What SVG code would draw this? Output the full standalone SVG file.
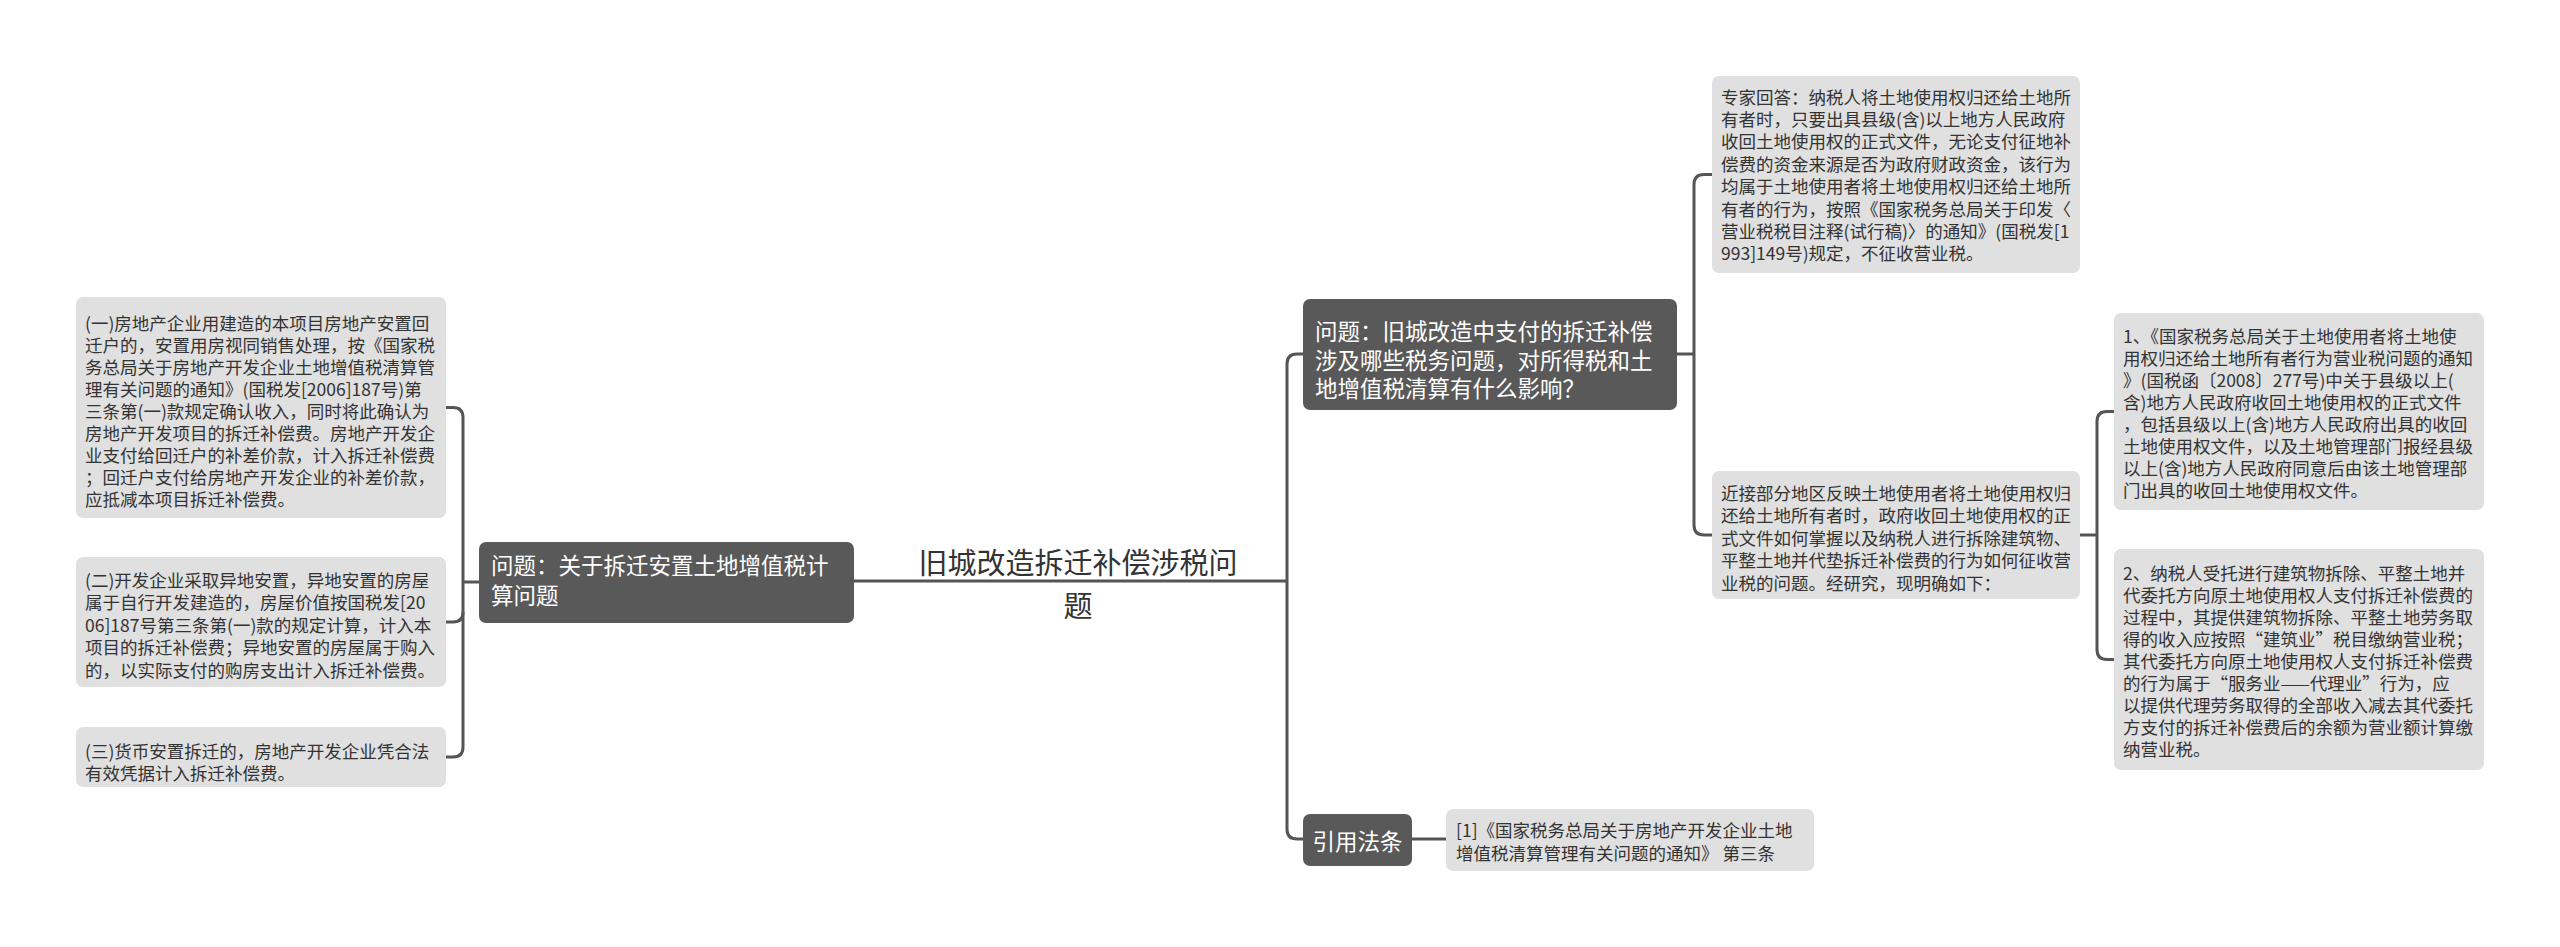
<svg xmlns="http://www.w3.org/2000/svg" width="2560" height="947" viewBox="0 0 2560 947">
<style>
.bg{fill:#ffffff}
.lbox{fill:#e0e0e0}
.dbox{fill:#595959}
.lt{font-family:"Noto Sans CJK SC","Noto Sans",sans-serif;font-size:17.5px;fill:#333333;dominant-baseline:central}
.dt{font-family:"Noto Sans CJK SC","Noto Sans",sans-serif;font-size:22.5px;fill:#ffffff;dominant-baseline:central}
.ct{font-family:"Noto Sans CJK SC","Noto Sans",sans-serif;font-size:29px;fill:#333333;dominant-baseline:central;text-anchor:middle}
.conn{fill:none;stroke:#555555;stroke-width:3}
</style>
<rect class="bg" x="0" y="0" width="2560" height="947"/>
<g id="connectors">
  <path class="conn" d="M854 581 H1287"/>
  <path class="conn" d="M1303 354 H1297 Q1287 354 1287 364 V829 Q1287 839 1297 839 H1303"/>
  <path class="conn" d="M479 582 H463"/>
  <path class="conn" d="M446 407.5 H453 Q463 407.5 463 417.5 V747 Q463 757 453 757 H446"/>
  <path class="conn" d="M446 622 H453 Q463 622 463 612"/>
  <path class="conn" d="M1677 354 H1694"/>
  <path class="conn" d="M1712 174.5 H1704 Q1694 174.5 1694 184.5 V525 Q1694 535 1704 535 H1712"/>
  <path class="conn" d="M1412 839 H1446"/>
  <path class="conn" d="M2080 535 H2097"/>
  <path class="conn" d="M2114 411.5 H2107 Q2097 411.5 2097 421.5 V649.5 Q2097 659.5 2107 659.5 H2114"/>
</g>
<g id="center">
  <text class="ct"><tspan x="1078" y="561">旧城改造拆迁补偿涉税问</tspan><tspan x="1078" y="604">题</tspan></text>
</g>
<g id="node-left">
  <rect class="dbox" x="479" y="542" width="375" height="81" rx="7"/>
  <text class="dt" x="491" y="564">问题：关于拆迁安置土地增值税计</text>
  <text class="dt" x="491" y="594">算问题</text>
</g>
<g id="node-l1">
  <rect class="lbox" x="76" y="297" width="370" height="221" rx="7"/>
  <text class="lt" x="85" y="322">(一)房地产企业用建造的本项目房地产安置回</text>
  <text class="lt" x="85" y="344">迁户的，安置用房视同销售处理，按《国家税</text>
  <text class="lt" x="85" y="366">务总局关于房地产开发企业土地增值税清算管</text>
  <text class="lt" x="85" y="388">理有关问题的通知》(国税发[2006]187号)第</text>
  <text class="lt" x="85" y="410">三条第(一)款规定确认收入，同时将此确认为</text>
  <text class="lt" x="85" y="432">房地产开发项目的拆迁补偿费。房地产开发企</text>
  <text class="lt" x="85" y="454">业支付给回迁户的补差价款，计入拆迁补偿费</text>
  <text class="lt" x="85" y="476">；回迁户支付给房地产开发企业的补差价款，</text>
  <text class="lt" x="85" y="498">应抵减本项目拆迁补偿费。</text>
</g>
<g id="node-l2">
  <rect class="lbox" x="76" y="557" width="370" height="130" rx="7"/>
  <text class="lt" x="85" y="579">(二)开发企业采取异地安置，异地安置的房屋</text>
  <text class="lt" x="85" y="601.5">属于自行开发建造的，房屋价值按国税发[20</text>
  <text class="lt" x="85" y="624">06]187号第三条第(一)款的规定计算，计入本</text>
  <text class="lt" x="85" y="646.5">项目的拆迁补偿费；异地安置的房屋属于购入</text>
  <text class="lt" x="85" y="669">的，以实际支付的购房支出计入拆迁补偿费。</text>
</g>
<g id="node-l3">
  <rect class="lbox" x="76" y="727" width="370" height="60" rx="7"/>
  <text class="lt" x="85" y="750">(三)货币安置拆迁的，房地产开发企业凭合法</text>
  <text class="lt" x="85" y="772">有效凭据计入拆迁补偿费。</text>
</g>
<g id="node-right1">
  <rect class="dbox" x="1303" y="299" width="374" height="111" rx="7"/>
  <text class="dt" x="1315" y="330">问题：旧城改造中支付的拆迁补偿</text>
  <text class="dt" x="1315" y="358.5">涉及哪些税务问题，对所得税和土</text>
  <text class="dt" x="1315" y="387">地增值税清算有什么影响？</text>
</g>
<g id="node-expert">
  <rect class="lbox" x="1712" y="76" width="368" height="197" rx="7"/>
  <text class="lt" x="1721" y="96">专家回答：纳税人将土地使用权归还给土地所</text>
  <text class="lt" x="1721" y="118.4">有者时，只要出具县级(含)以上地方人民政府</text>
  <text class="lt" x="1721" y="140.8">收回土地使用权的正式文件，无论支付征地补</text>
  <text class="lt" x="1721" y="163.2">偿费的资金来源是否为政府财政资金，该行为</text>
  <text class="lt" x="1721" y="185.6">均属于土地使用者将土地使用权归还给土地所</text>
  <text class="lt" x="1721" y="208">有者的行为，按照《国家税务总局关于印发〈</text>
  <text class="lt" x="1721" y="230.4">营业税税目注释(试行稿)〉的通知》(国税发[1</text>
  <text class="lt" x="1721" y="252.8">993]149号)规定，不征收营业税。</text>
</g>
<g id="node-near">
  <rect class="lbox" x="1712" y="471" width="368" height="128" rx="7"/>
  <text class="lt" x="1721" y="492">近接部分地区反映土地使用者将土地使用权归</text>
  <text class="lt" x="1721" y="514.5">还给土地所有者时，政府收回土地使用权的正</text>
  <text class="lt" x="1721" y="537">式文件如何掌握以及纳税人进行拆除建筑物、</text>
  <text class="lt" x="1721" y="559.5">平整土地并代垫拆迁补偿费的行为如何征收营</text>
  <text class="lt" x="1721" y="582">业税的问题。经研究，现明确如下：</text>
</g>
<g id="node-item1">
  <rect class="lbox" x="2114" y="313" width="370" height="197" rx="7"/>
  <text class="lt" x="2123" y="335">1、《国家税务总局关于土地使用者将土地使</text>
  <text class="lt" x="2123" y="357">用权归还给土地所有者行为营业税问题的通知</text>
  <text class="lt" x="2123" y="379">》(国税函〔2008〕277号)中关于县级以上(</text>
  <text class="lt" x="2123" y="401">含)地方人民政府收回土地使用权的正式文件</text>
  <text class="lt" x="2123" y="423">，包括县级以上(含)地方人民政府出具的收回</text>
  <text class="lt" x="2123" y="445.5">土地使用权文件，以及土地管理部门报经县级</text>
  <text class="lt" x="2123" y="467.5">以上(含)地方人民政府同意后由该土地管理部</text>
  <text class="lt" x="2123" y="489.5">门出具的收回土地使用权文件。</text>
</g>
<g id="node-item2">
  <rect class="lbox" x="2114" y="549" width="370" height="221" rx="7"/>
  <text class="lt" x="2123" y="572">2、纳税人受托进行建筑物拆除、平整土地并</text>
  <text class="lt" x="2123" y="594">代委托方向原土地使用权人支付拆迁补偿费的</text>
  <text class="lt" x="2123" y="616">过程中，其提供建筑物拆除、平整土地劳务取</text>
  <text class="lt" x="2123" y="638">得的收入应按照“建筑业”税目缴纳营业税；</text>
  <text class="lt" x="2123" y="660">其代委托方向原土地使用权人支付拆迁补偿费</text>
  <text class="lt" x="2123" y="682">的行为属于“服务业——代理业”行为，应</text>
  <text class="lt" x="2123" y="704">以提供代理劳务取得的全部收入减去其代委托</text>
  <text class="lt" x="2123" y="726">方支付的拆迁补偿费后的余额为营业额计算缴</text>
  <text class="lt" x="2123" y="748">纳营业税。</text>
</g>
<g id="node-law">
  <rect class="dbox" x="1303" y="814" width="109" height="52" rx="7"/>
  <text class="dt" x="1357.5" y="840" style="text-anchor:middle">引用法条</text>
</g>
<g id="node-ref">
  <rect class="lbox" x="1446" y="809" width="368" height="62" rx="7"/>
  <text class="lt" x="1456" y="829">[1]《国家税务总局关于房地产开发企业土地</text>
  <text class="lt" x="1456" y="852">增值税清算管理有关问题的通知》 第三条</text>
</g>
</svg>
